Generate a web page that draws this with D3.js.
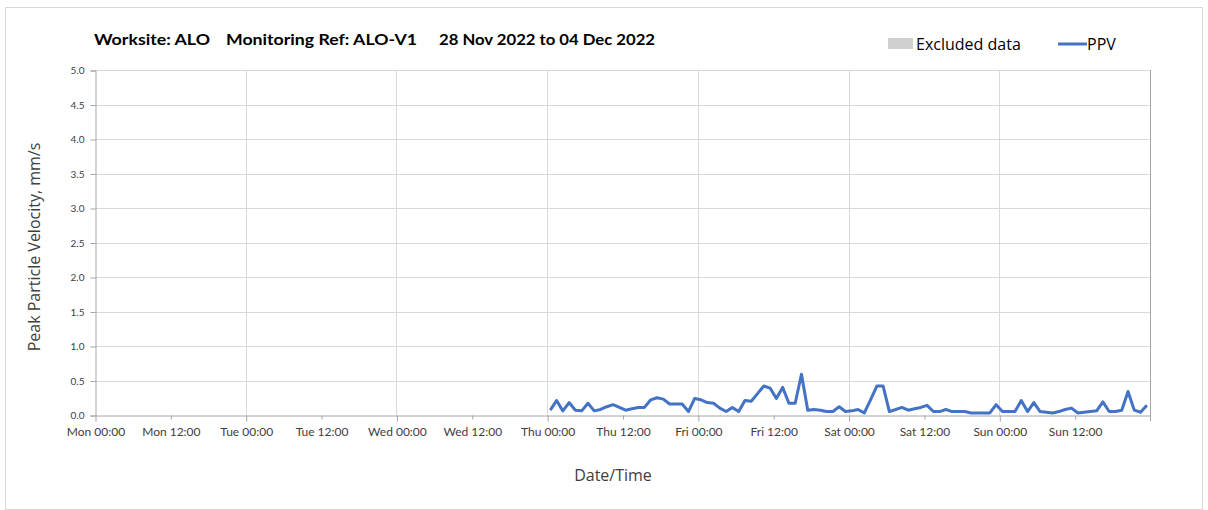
<!DOCTYPE html>
<html><head><meta charset="utf-8">
<script src="https://cdn.jsdelivr.net/npm/d3@7"></script>
<style>
html,body{margin:0;padding:0;background:#fff;}
svg{display:block;font-family:"Open Sans",Lato,sans-serif;}
</style></head>
<body><svg id="chart" width="1208" height="510"></svg>
<script>
// ---- data ----
const titleParts = ["Worksite: ALO", "Monitoring Ref: ALO-V1", "28 Nov 2022 to 04 Dec 2022"];
const legendLabels = ["Excluded data", "PPV"];
const yTickValues = [0, 0.5, 1, 1.5, 2, 2.5, 3, 3.5, 4, 4.5, 5];
const xTickLabels = ["Mon 00:00","Mon 12:00","Tue 00:00","Tue 12:00","Wed 00:00","Wed 12:00",
  "Thu 00:00","Thu 12:00","Fri 00:00","Fri 12:00","Sat 00:00","Sat 12:00","Sun 00:00","Sun 12:00"];
const periodStart = "2022-11-28T00:00:00Z";
const periodEnd = "2022-12-05T00:00:00Z";
const firstReading = "2022-12-01T00:30:00Z"; // hourly readings from Thu
const ppvValues = [
  0.07,0.21,0.06,0.18,0.07,0.06,0.17,0.06,0.08,0.12,0.15,0.11,
  0.07,0.09,0.11,0.11,0.22,0.25,0.23,0.16,0.16,0.16,0.05,0.24,
  0.22,0.18,0.17,0.10,0.05,0.11,0.05,0.21,0.20,0.31,0.42,0.39,
  0.24,0.40,0.17,0.17,0.59,0.07,0.08,0.07,0.05,0.05,0.12,0.05,
  0.06,0.08,0.03,0.22,0.42,0.42,0.05,0.08,0.11,0.07,0.09,0.11,
  0.14,0.05,0.05,0.08,0.05,0.05,0.05,0.03,0.03,0.03,0.03,0.15,
  0.05,0.05,0.05,0.21,0.05,0.18,0.05,0.04,0.03,0.05,0.08,0.10,
  0.03,0.04,0.05,0.06,0.19,0.05,0.05,0.07,0.34,0.07,0.04,0.14
];

// ---- layout ----
const svg = d3.select("#chart");
const L = 95, R = 1150, T = 70, B = 415;
const x = d3.scaleUtc().domain([new Date(periodStart), new Date(periodEnd)]).range([L, R]);
const y = d3.scaleLinear().domain([0, 5]).range([B, T]);
const t0 = new Date(firstReading).getTime();
const series = ppvValues.map((v, i) => ({t: new Date(t0 + i * 3600e3), v}));

// outer border
svg.append("rect").attr("x", 5.5).attr("y", 7.5).attr("width", 1197).attr("height", 502)
  .attr("fill", "none").attr("stroke", "#d9d9d9");

// horizontal gridlines
svg.append("g").selectAll("line").data(yTickValues.filter(d => d > 0)).join("line")
  .attr("x1", L).attr("x2", R).attr("y1", d => Math.round(y(d)) + 0.5).attr("y2", d => Math.round(y(d)) + 0.5)
  .attr("stroke", "#d9d9d9");

// vertical gridlines (day boundaries)
const days = d3.utcDay.range(new Date(periodStart), new Date(new Date(periodEnd).getTime() + 1));
svg.append("g").selectAll("line").data(days.slice(1)).join("line")
  .attr("x1", d => Math.round(x(d)) + 0.5).attr("x2", d => Math.round(x(d)) + 0.5)
  .attr("y1", T).attr("y2", B).attr("stroke", "#d9d9d9");

// y axis
const yAxis = d3.axisLeft(y).tickValues(yTickValues).tickFormat(d3.format(".1f")).tickSize(5).tickPadding(6);
const gy = svg.append("g").attr("transform", `translate(${L + 0.5},0.5)`).call(yAxis);
gy.select(".domain").attr("stroke", "#a6a6a6");
gy.selectAll(".tick line").attr("stroke", "#a6a6a6");
gy.selectAll("text").attr("fill", "#404040").style("font-size", "10px").style("font-family", "Lato, sans-serif");

// x axis
const xTicks = d3.utcHour.every(12).range(new Date(periodStart), new Date(periodEnd));
const xAxis = d3.axisBottom(x).tickValues(xTicks).tickFormat((d, i) => xTickLabels[i]).tickSize(0).tickPadding(12);
const gx = svg.append("g").attr("transform", `translate(0.5,${B + 0.5})`).call(xAxis);
gx.select(".domain").attr("stroke", "#a6a6a6");
gx.selectAll(".tick line").attr("stroke", "#a6a6a6").attr("y2", (d, i) => i % 2 === 0 ? 6 : 4);
gx.selectAll("text").attr("fill", "#404040").style("font-size", "12px").style("font-family", "Lato, sans-serif");
// right border of plot
svg.append("line").attr("x1", R + 0.5).attr("x2", R + 0.5).attr("y1", T).attr("y2", B + 6).attr("stroke", "#a6a6a6");

// line
const line = d3.line().x(d => x(d.t)).y(d => y(d.v));
svg.append("path").datum(series).attr("d", line).attr("fill", "none")
  .attr("stroke", "#4472c4").attr("stroke-width", 3).attr("stroke-linejoin", "round");

// axis titles
svg.append("text").attr("x", 613).attr("y", 481).attr("text-anchor", "middle")
  .attr("fill", "#404040").style("font-size", "16px").text("Date/Time");
svg.append("text").attr("transform", "translate(40,247) rotate(-90)").attr("text-anchor", "middle")
  .attr("fill", "#404040").style("font-size", "16px").text("Peak Particle Velocity, mm/s");

// title
const titleX = [94, 226, 439];
const titleW = [116, 191, 216];
svg.append("g").selectAll("text").data(titleParts).join("text")
  .attr("x", (d, i) => titleX[i]).attr("y", 45)
  .attr("textLength", (d, i) => titleW[i]).attr("lengthAdjust", "spacingAndGlyphs")
  .attr("fill", "#000").style("font-size", "16px").style("font-weight", "bold")
  .style("font-family", "Lato, sans-serif").text(d => d);

// legend
svg.append("rect").attr("x", 888).attr("y", 38).attr("width", 25).attr("height", 11).attr("fill", "#d0d0d0");
svg.append("text").attr("x", 916).attr("y", 50).attr("fill", "#000").style("font-size", "16px").text(legendLabels[0]);
svg.append("line").attr("x1", 1058).attr("x2", 1087).attr("y1", 44).attr("y2", 44)
  .attr("stroke", "#4472c4").attr("stroke-width", 3);
svg.append("text").attr("x", 1087).attr("y", 50).attr("fill", "#000").style("font-size", "16px").text(legendLabels[1]);
</script></body></html>
